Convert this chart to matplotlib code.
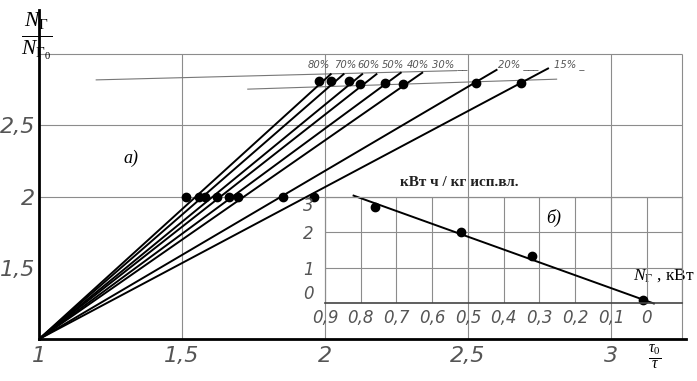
import matplotlib.pyplot as plt

plt.rcParams['mathtext.fontset'] = 'custom'
plt.rcParams['mathtext.rm'] = 'Liberation Serif'
plt.rcParams['mathtext.it'] = 'Liberation Serif:italic'
plt.rcParams['mathtext.bf'] = 'Liberation Serif:bold'

# --- данные, график а) ---
pct_labels = ['80%', '70%', '60%', '50%', '40%', '30% __', '20% ___', '15% _']
line_top_x = [2.02, 2.065, 2.13, 2.18, 2.265, 2.34, 2.60, 2.78]
line_top_y = [2.86, 2.86, 2.86, 2.86, 2.87, 2.87, 2.89, 2.90]
upper_x = [1.979, 2.021, 2.084, 2.122, 2.210, 2.273, 2.528, 2.685]
upper_y = [2.81, 2.81, 2.81, 2.79, 2.80, 2.79, 2.80, 2.80]
lower_x = [1.514, 1.559, 1.580, 1.622, 1.664, 1.696, 1.853, 1.962]
lower_y = [2.0, 2.0, 2.0, 2.0, 2.0, 2.0, 2.0, 2.0]
thin_a_x, thin_a_y = [1.20, 2.46], [2.82, 2.885]
thin_b_x, thin_b_y = [1.73, 2.81], [2.755, 2.825]

x_ticks = [1, 1.5, 2, 2.5, 3]
x_tick_labels = ['1', '1,5', '2', '2,5', '3']
y_ticks = [1.5, 2, 2.5]
y_tick_labels = ['1,5', '2', '2,5']

# --- данные, график б) ---
b_x_ticks = [0.9, 0.8, 0.7, 0.6, 0.5, 0.4, 0.3, 0.2, 0.1, 0.0, -0.1]
b_x_labels = ['0,9', '0,8', '0,7', '0,6', '0,5', '0,4', '0,3', '0,2', '0,1', '0', '']
b_y_ticks = [0, 1, 2, 3]
b_y_labels = ['0', '1', '2', '3']
b_pts_x = [0.76, 0.52, 0.32, 0.01]
b_pts_y = [2.70, 2.02, 1.33, 0.11]
b_line_x = [0.82, -0.02]
b_line_y = [3.03, 0.0]

grid_c = '#8c8c8c'
lab_c = '#555555'
tick_font = dict(family='DejaVu Sans', style='italic', color=lab_c)

fig = plt.figure(figsize=(6.97, 3.81), dpi=100)
ax = fig.add_axes([0.056, 0.110, 0.928, 0.8635])
ax.set_xlim(1, 3.262)
ax.set_ylim(1, 3.31)
for s in ['top', 'right']:
    ax.spines[s].set_visible(False)
ax.spines['left'].set_linewidth(2)
ax.spines['bottom'].set_linewidth(2)

# сетка
ax.hlines([2, 2.5, 3], 1, 3.25, color=grid_c, lw=0.8, zorder=1)
ax.vlines([1.5, 2, 2.5, 3, 3.25], 1, 3, color=grid_c, lw=0.8, zorder=1)

ax.set_xticks(x_ticks)
ax.set_xticklabels(x_tick_labels, fontsize=16, **tick_font)
ax.set_yticks(y_ticks)
ax.set_yticklabels(y_tick_labels, fontsize=16, **tick_font)
ax.tick_params(length=0, pad=5)
ax.tick_params(axis='y', pad=3)

# лучи из точки (1, 1)
for tx, ty in zip(line_top_x, line_top_y):
    ax.plot([1, tx], [1, ty], color='black', lw=1.4, zorder=3)
ax.plot(thin_a_x, thin_a_y, color='#777777', lw=0.8, zorder=2)
ax.plot(thin_b_x, thin_b_y, color='#777777', lw=0.8, zorder=2)
ax.plot(upper_x, upper_y, 'o', color='black', ms=6, zorder=4)
ax.plot(lower_x, lower_y, 'o', color='black', ms=6, zorder=4)

pct_x = [1.94, 2.032, 2.112, 2.200, 2.285, 2.375, 2.605, 2.80]
for lab, px in zip(pct_labels, pct_x):
    ax.text(px, 2.925, lab, fontsize=7.2, ha='left', va='center', **tick_font)

ax.text(1.32, 2.27, 'а)', fontsize=13, family='Liberation Serif', style='italic',
        ha='center', va='center')
ax.text(3.154, 0.87, r'$\frac{\tau_0}{\tau}$', fontsize=16, ha='center',
        va='center', clip_on=False)
fig.text(0.053, 0.905, r'$\frac{N_{\mathrm{Г}}}{N_{\mathrm{Г}_0}}$', fontsize=22,
         ha='center', va='center')

# --- вставка б) ---
axin = ax.inset_axes([2.0, 1.25, 1.25, 0.75], transform=ax.transData)
axin.set_xlim(0.9, -0.1)
axin.set_ylim(0, 3)
axin.patch.set_alpha(0)
for s in axin.spines.values():
    s.set_color(grid_c)
    s.set_linewidth(0.8)
axin.spines['bottom'].set_color('#444444')
axin.spines['bottom'].set_linewidth(1.2)
axin.set_xticks(b_x_ticks)
axin.set_xticklabels(b_x_labels, fontsize=12, **tick_font)
axin.set_yticks(b_y_ticks)
axin.set_yticklabels(b_y_labels, fontsize=12, **tick_font)
axin.tick_params(length=0, pad=4)
axin.tick_params(axis='y', pad=8)
# подписи 0 и 3 сдвинуты внутрь, как на рисунке
ylabs = axin.get_yticklabels()
ylabs[0].set_va('bottom')
ylabs[-1].set_va('top')
axin.grid(True, color=grid_c, lw=0.8)
axin.set_axisbelow(True)
axin.plot(b_line_x, b_line_y, color='black', lw=1.4, clip_on=False)
axin.plot(b_pts_x, b_pts_y, 'o', color='black', ms=6, clip_on=False)

ax.text(2.47, 2.098, 'кВт ч / кг исп.вл.', fontsize=11, family='Liberation Serif',
        weight='bold', color='#222222', ha='center', va='center')
ax.text(2.80, 1.85, 'б)', fontsize=13, family='Liberation Serif', style='italic',
        ha='center', va='center')
ax.text(3.292, 1.445, r'$N_{\mathrm{Г}}$' + ' , кВт', fontsize=12.5,
        family='Liberation Serif', ha='right', va='center', clip_on=False)

fig.savefig('out.png', dpi=100)
